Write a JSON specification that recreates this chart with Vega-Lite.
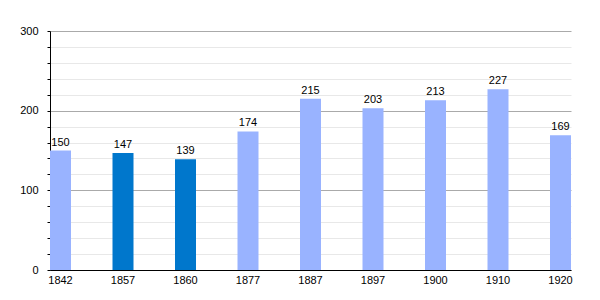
{
  "$schema": "https://vega.github.io/schema/vega-lite/v6.json",
  "autosize": {"type": "none"},
  "width": 521,
  "height": 239,
  "padding": {"left": 50, "top": 31, "right": 29, "bottom": 30},
  "background": "white",
  "data": {"values": [
    {"year": "1842", "pop": 150},
    {"year": "1857", "pop": 147},
    {"year": "1860", "pop": 139},
    {"year": "1877", "pop": 174},
    {"year": "1887", "pop": 215},
    {"year": "1897", "pop": 203},
    {"year": "1900", "pop": 213},
    {"year": "1910", "pop": 227},
    {"year": "1920", "pop": 169}
  ]},
  "config": {
    "view": {"stroke": null},
    "font": "Liberation Sans"
  },
  "encoding": {
    "x": {
      "field": "year", "type": "ordinal", "sort": null,
      "scale": {"paddingInner": 0.664, "paddingOuter": 0},
      "axis": {
        "title": null, "labelAngle": 0, "ticks": false, "domainColor": "#000",
        "labelFontSize": 11, "labelColor": "#000", "labelPadding": 4, "grid": false
      }
    },
    "y": {
      "field": "pop", "type": "quantitative",
      "scale": {"domain": [0, 300], "nice": false},
      "axis": {
        "title": null,
        "values": [0, 20, 40, 60, 80, 100, 120, 140, 160, 180, 200, 220, 240, 260, 280, 300],
        "labelExpr": "datum.value % 100 === 0 ? datum.label : ''",
        "gridColor": {"condition": {"test": "datum.value % 100 === 0", "value": "#aaaaaa"}, "value": "#e8e8e8"},
        "grid": true,
        "domainColor": "#000",
        "tickColor": "#000",
        "tickSize": 3,
        "labelFontSize": 11,
        "labelColor": "#000",
        "labelPadding": 9
      }
    }
  },
  "layer": [
    {
      "mark": {"type": "bar"},
      "encoding": {
        "color": {
          "condition": {"test": "datum.year === '1857' || datum.year === '1860'", "value": "#0077cc"},
          "value": "#99b3ff"
        }
      }
    },
    {
      "mark": {"type": "text", "baseline": "bottom", "dy": -3, "fontSize": 11, "color": "#000"},
      "encoding": {"text": {"field": "pop", "type": "quantitative"}}
    }
  ]
}
